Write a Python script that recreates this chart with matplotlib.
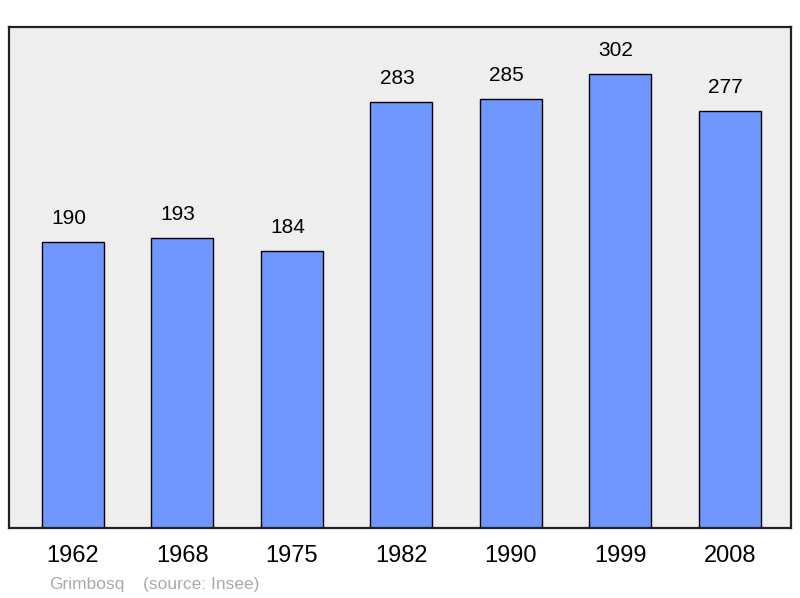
import matplotlib.pyplot as plt

plt.rcParams['font.family'] = ['Liberation Sans', 'DejaVu Sans']

# Données
annees = ['1962', '1968', '1975', '1982', '1990', '1999', '2008']
population = [190, 193, 184, 283, 285, 302, 277]

fig = plt.figure(figsize=(8, 5.98), dpi=100)
ax = fig.add_axes([9 / 800, 70 / 598, 782 / 800, 501 / 598])
ax.set_facecolor('#eeeeee')

x = range(len(annees))
barres = ax.bar(x, population, width=0.566, color='#7096ff',
                edgecolor='black', linewidth=1.0, zorder=2)

for i, v in zip(x, population):
    ax.annotate(str(v), (i, v), xytext=(-3, 10), textcoords='offset points',
                ha='center', va='bottom', fontsize=15)

ax.set_xlim(-0.584, 6.56)
ax.set_ylim(0, 333)
ax.set_yticks([])
ax.set_xticks(list(x))
ax.set_xticklabels(annees, fontsize=17)
ax.tick_params(axis='x', length=0, pad=12)
for s in ax.spines.values():
    s.set_linewidth(1.6)
    s.set_color('#222222')

fig.text(49 / 800, 1 - 584 / 598, 'Grimbosq', fontsize=12.5, color='#aaaaaa',
         ha='left', va='center')
fig.text(143 / 800, 1 - 584 / 598, '(source: Insee)', fontsize=12.5,
         color='#aaaaaa', ha='left', va='center')

fig.savefig('out.png', dpi=100)
